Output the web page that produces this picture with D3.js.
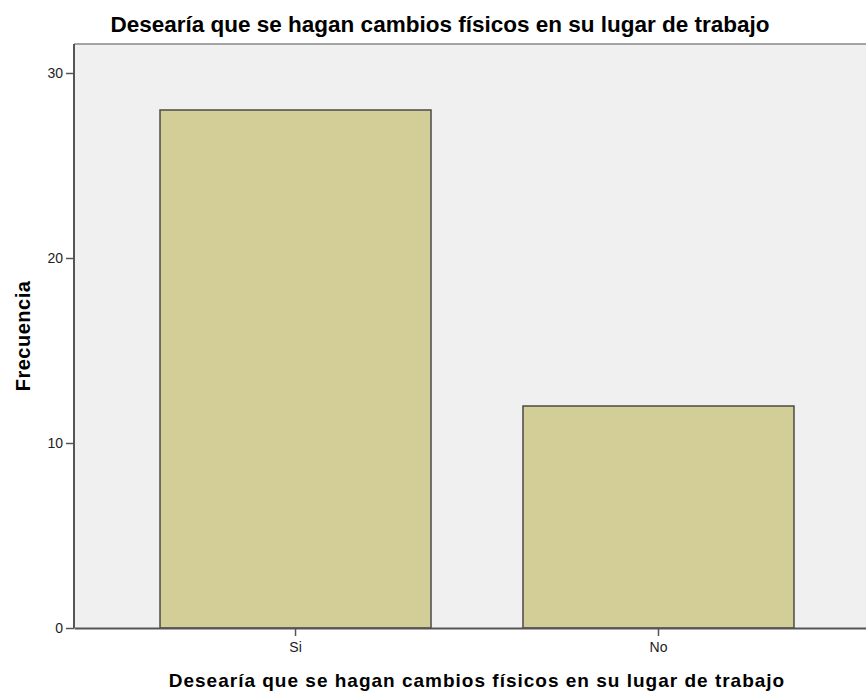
<!DOCTYPE html>
<head>
  <meta charset="utf-8">
  <script src="https://d3js.org/d3.v7.min.js"></script>
  <style type="text/css">
    body { margin:0; background:#fff; overflow:hidden; }
    text { font-family: "Liberation Sans", Arial, sans-serif; fill:#000; }
    .bar { fill:#d3ce97; stroke:#4a4a48; stroke-width:1.5; }
    .axis path, .axis line { stroke:#555; }
    .axis text { font-size:14px; fill:#222; }
  </style>
</head>
<body>
  <script>
  // data
  var categories = ["Si", "No"];
  var counts = [28, 12];
  var yTicks = [0, 10, 20, 30];
  var chartTitle = "Desearía que se hagan cambios físicos en su lugar de trabajo";
  var xTitle = "Desearía que se hagan cambios físicos en su lugar de trabajo";
  var yTitle = "Frecuencia";

  var W = 866, H = 691;
  var plot = {left: 74, right: 880, top: 44, bottom: 628};

  var svg = d3.select("body").append("svg")
    .attr("width", W)
    .attr("height", H);

  var xScale = d3.scaleBand()
    .domain(categories)
    .range([plot.left, plot.right])
    .paddingInner(0.2534)
    .paddingOuter(0.237);

  var yScale = d3.scaleLinear()
    .domain([0, 30])
    .range([plot.bottom, plot.bottom - 555]);

  // plot background
  svg.append("rect")
    .attr("x", plot.left).attr("y", plot.top)
    .attr("width", plot.right - plot.left)
    .attr("height", plot.bottom - plot.top)
    .attr("fill", "#f0f0f0");

  // top frame line
  svg.append("line")
    .attr("x1", plot.left).attr("x2", plot.right)
    .attr("y1", plot.top).attr("y2", plot.top)
    .attr("stroke", "#888").attr("stroke-width", 1.5);

  // bars
  svg.selectAll(".bar")
    .data(counts)
    .enter().append("rect")
    .attr("class", "bar")
    .attr("x", function(d, i) { return xScale(categories[i]); })
    .attr("y", function(d) { return yScale(d); })
    .attr("width", xScale.bandwidth())
    .attr("height", function(d) { return yScale(0) - yScale(d); });

  // y axis
  var yAxis = svg.append("g")
    .attr("class", "axis")
    .attr("transform", "translate(" + plot.left + ",0)")
    .call(d3.axisLeft(yScale).tickValues(yTicks).tickSize(8).tickSizeOuter(0).tickPadding(3));
  yAxis.select(".domain").attr("stroke-width", 2).attr("d", "M0," + plot.top + "V" + plot.bottom);
  yAxis.selectAll(".tick line").attr("stroke-width", 1.5);

  // x axis
  var xAxis = svg.append("g")
    .attr("class", "axis")
    .attr("transform", "translate(0," + plot.bottom + ")")
    .call(d3.axisBottom(xScale).tickSize(8).tickSizeOuter(0).tickPadding(6));
  xAxis.select(".domain").attr("stroke-width", 2);
  xAxis.selectAll(".tick line").attr("stroke-width", 1.5);

  // titles
  svg.append("text")
    .attr("x", 440).attr("y", 32)
    .attr("text-anchor", "middle")
    .style("font-size", "22.5px").style("font-weight", "bold")
    .text(chartTitle);

  svg.append("text")
    .attr("x", (plot.left + plot.right) / 2).attr("y", 687)
    .attr("text-anchor", "middle")
    .style("font-size", "19px").style("font-weight", "bold")
    .style("letter-spacing", "1px")
    .text(xTitle);

  svg.append("text")
    .attr("transform", "translate(30," + (plot.top + plot.bottom) / 2 + ") rotate(-90)")
    .attr("text-anchor", "middle")
    .style("font-size", "20px").style("font-weight", "bold")
    .style("letter-spacing", "0.5px")
    .text(yTitle);
  </script>
</body>
